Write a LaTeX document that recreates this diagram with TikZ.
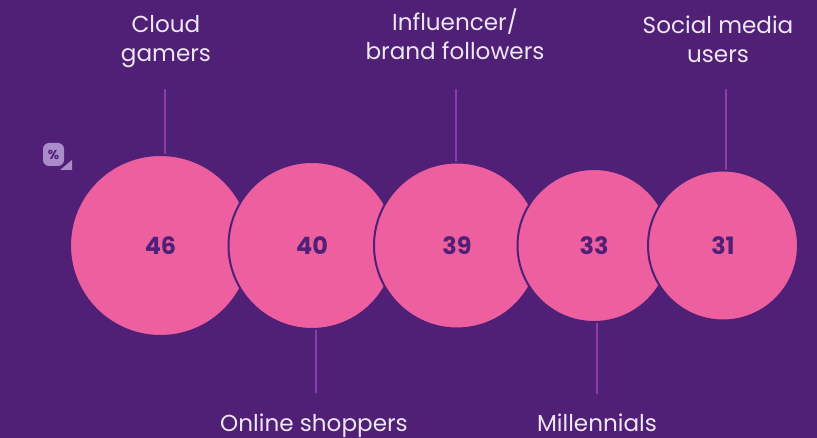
\documentclass[tikz,border=0pt]{standalone}
\usepackage{fontspec}
\setmainfont{Poppins}
\definecolor{bgpurple}{HTML}{4F2076}
\definecolor{pinkc}{HTML}{EE5FA0}
\definecolor{leader}{HTML}{8A3DAA}
\definecolor{labeltxt}{HTML}{EEE6F3}
\definecolor{iconc}{HTML}{A98CC9}
\begin{document}
\begin{tikzpicture}[x=1bp,y=-1bp,
  bubble/.style={circle, fill=pinkc, draw=bgpurple, line width=2bp, inner sep=0pt,
    text=bgpurple, font=\fontsize{24}{28}\selectfont\bfseries},
  lbl/.style={text=labeltxt, align=center, inner sep=0pt,
    font=\fontsize{23.2}{30}\selectfont},
  leadline/.style={draw=leader, line width=1.6bp}]
\fill[bgpurple] (0,0) rectangle (817,438);
\useasboundingbox (0,0) rectangle (817,438);
% percent icon
\fill[iconc, rounded corners=6bp] (43,143) rectangle (64,166);
\fill[iconc] (60,170) -- (72,170) -- (72,160) -- cycle;
\node[text=bgpurple, font=\fontsize{13}{13}\selectfont\bfseries, inner sep=0pt] (pct) at (53.5,154.5) {\%};
% labels
\node[lbl, anchor=base] (lcloud) at (166,62) {Cloud\\gamers};
\node[lbl, anchor=base] (linfl) at (455,60) {Influencer/\\brand followers};
\node[lbl, anchor=base] (lsoc) at (718,63) {Social media\\users};
\node[lbl, anchor=base] (lonl) at (314,431) {Online shoppers};
\node[lbl, anchor=base] (lmil) at (597,431) {Millennials};
% leader end coordinates
\coordinate (c1t) at (165,89);  \coordinate (c1b) at (165,170);
\coordinate (c3t) at (456,89);  \coordinate (c3b) at (456,175);
\coordinate (c5t) at (726,89);  \coordinate (c5b) at (726,180);
\coordinate (c2t) at (316,320); \coordinate (c2b) at (316,393);
\coordinate (c4t) at (597,315); \coordinate (c4b) at (597,394);
\draw[leadline] (c1t) -- (c1b);
\draw[leadline] (c3t) -- (c3b);
\draw[leadline] (c5t) -- (c5b);
\draw[leadline] (c2t) -- (c2b);
\draw[leadline] (c4t) -- (c4b);
% bubbles
\node[bubble, minimum size=181bp] (b1) at (160.5,245.5) {46};
\node[bubble, minimum size=167bp] (b2) at (312,245.5) {40};
\node[bubble, minimum size=166bp] (b3) at (457,245.5) {39};
\node[bubble, minimum size=153bp] (b4) at (594,245.5) {33};
\node[bubble, minimum size=150bp] (b5) at (723,245.5) {31};
\end{tikzpicture}
\end{document}
